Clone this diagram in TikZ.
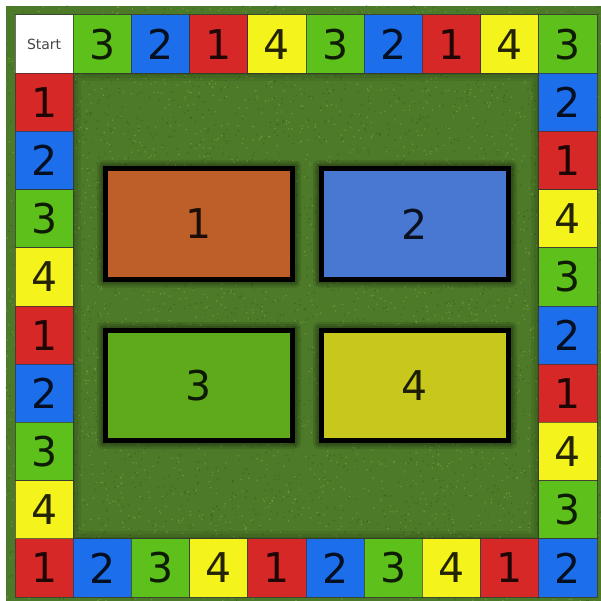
\documentclass[tikz,border=0pt]{standalone}
\usepackage{fontspec}
\setmainfont{DejaVu Sans}
\definecolor{n1}{HTML}{D72828}
\definecolor{n2}{HTML}{1C6EEA}
\definecolor{n3}{HTML}{5EC01A}
\definecolor{n4}{HTML}{F4F41C}
\definecolor{grass}{HTML}{4C7A28}
\definecolor{grassL}{HTML}{8CAE4A}
\definecolor{grassD}{HTML}{30541A}
\definecolor{q1}{HTML}{BE5F2A}
\definecolor{q2}{HTML}{4878D2}
\definecolor{q3}{HTML}{5EAA1A}
\definecolor{q4}{HTML}{C8C81C}
\tikzset{
  cell/.style={draw=black!80, draw opacity=0.7, line width=1pt, minimum size=58.2pt, inner sep=0pt,
    text=black, text opacity=0.85, font=\fontsize{41}{41}\selectfont},
  box/.style={draw=black, line width=5pt, inner sep=0pt, text=black, text opacity=0.85,
    font=\fontsize{41}{41}\selectfont},
}
\begin{document}
\begin{tikzpicture}[x=1pt,y=-1pt]
\useasboundingbox (0,0) rectangle (601,601);
\fill[white] (0,0) rectangle (601,601);
% grass
\fill[grass] (6,6) rectangle (601,601);
\pgfmathsetseed{7}
\foreach \i in {1,...,3000}{
  \fill[grassL, opacity=0.55] ({6+595*rnd},{6+595*rnd}) circle (0.8);
}
\foreach \i in {1,...,3000}{
  \fill[grassD, opacity=0.55] ({6+595*rnd},{6+595*rnd}) circle (0.8);
}
% shadow at inner edge
\foreach \w/\o in {8/0.06,5/0.08,2/0.1}{
  \draw[black, opacity=\o, line width=\w pt] (73.2+\w/2,73.2+\w/2) rectangle (538.8-\w/2,538.8-\w/2);
}
% top row
\node[cell, fill=white, text=black!85, font=\fontsize{14}{14}\selectfont] (t0) at (44.1,44.1) {Start};
\foreach \n [count=\c] in {3,2,1,4,3,2,1,4,3}{
  \node[cell, fill=n\n] (t\c) at ({15+58.2*(\c+0.5)},44.1) {\n};
}
% right column
\foreach \n [count=\r] in {2,1,4,3,2,1,4,3,2}{
  \node[cell, fill=n\n] (r\r) at (567.9,{15+58.2*(\r+0.5)}) {\n};
}
% bottom row
\foreach \n [count=\c from 0] in {1,2,3,4,1,2,3,4,1}{
  \node[cell, fill=n\n] (b\c) at ({15+58.2*(\c+0.5)},567.9) {\n};
}
% left column
\foreach \n [count=\r] in {1,2,3,4,1,2,3,4}{
  \node[cell, fill=n\n] (l\r) at (44.1,{15+58.2*(\r+0.5)}) {\n};
}
% box shadows
\foreach \cx/\cy in {199/224, 415/224, 199/385.5, 415/385.5}{
  \foreach \e/\o in {6/0.1,4/0.12,2/0.15}{
    \fill[black, opacity=\o, rounded corners=\e] ({\cx-96-\e},{\cy-57.5-\e}) rectangle ({\cx+96+\e},{\cy+57.5+\e});
  }
}
% boxes
\node[box, fill=q1, minimum width=187pt, minimum height=110pt] (B1) at (199,224) {1};
\node[box, fill=q2, minimum width=187pt, minimum height=110pt] (B2) at (415,224) {2};
\node[box, fill=q3, minimum width=187pt, minimum height=110pt] (B3) at (199,385.5) {3};
\node[box, fill=q4, minimum width=187pt, minimum height=110pt] (B4) at (415,385.5) {4};
\end{tikzpicture}
\end{document}
